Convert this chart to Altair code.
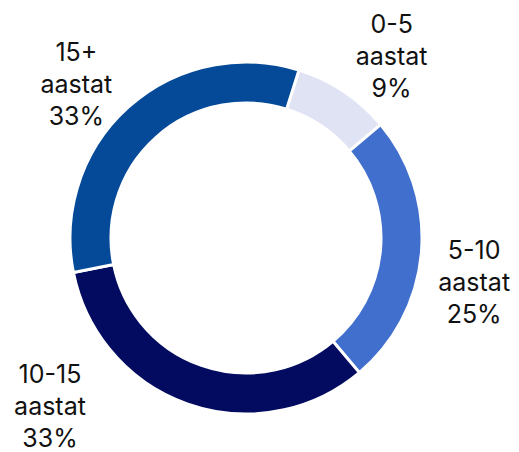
import math
import altair as alt
import pandas as pd

categories = ["0-5", "5-10", "10-15", "15+"]
shares = [9, 25, 33, 33]
colors = ["#E0E3F3", "#416FCD", "#020B5F", "#044A98"]
unit = "aastat"

df = pd.DataFrame({"cat": categories, "share": shares, "idx": list(range(len(categories)))})
df["label"] = df["cat"] + "\n" + unit + "\n" + df["share"].astype(str) + "%"

START = math.radians(17.5)
CX, CY = 238, 230
R_OUT, R_IN, R_LAB = 176, 135, 230
FONT = "Inter"
TRANGE = [START, START + 2 * math.pi]

base = alt.Chart(df)

arcs = base.mark_arc(innerRadius=R_IN, outerRadius=R_OUT, stroke="white", strokeWidth=3).encode(
    theta=alt.Theta("share:Q", stack=True, scale=alt.Scale(range=TRANGE)),
    order=alt.Order("idx:Q"),
    color=alt.Color("cat:N", scale=alt.Scale(domain=categories, range=colors), legend=None),
    x=alt.value(CX),
    y=alt.value(CY),
)

offsets = {"0-5": (18, -22), "5-10": (-1, -7), "10-15": (-120, -80), "15+": (-16, -14)}

label_base = (
    base.transform_joinaggregate(total="sum(share)")
    .transform_window(cum="sum(share)", sort=[alt.SortField("idx")], frame=[None, 0])
    .transform_calculate(mid="(datum.cum - datum.share / 2) / datum.total")
)

layers = [arcs]
for cat in categories:
    dx, dy = offsets[cat]
    layers.append(
        label_base.transform_filter(alt.datum.cat == cat)
        .mark_text(lineBreak="\n", lineHeight=32, fontSize=25, font=FONT, color="#111111",
                   align="center", baseline="middle", dx=dx, dy=dy)
        .encode(theta=alt.Theta("mid:Q", stack=None, scale=alt.Scale(domain=[0, 1], range=TRANGE)),
                text="label:N",
                radius=alt.value(R_LAB), x=alt.value(CX), y=alt.value(CY))
    )

chart = alt.layer(*layers).resolve_scale(theta="independent").properties(
    width=503, height=444, padding=0, autosize=alt.AutoSizeParams(type="none")
).configure_view(stroke=None)

chart.save("out.html", embed_options={"renderer": "svg", "actions": False})
